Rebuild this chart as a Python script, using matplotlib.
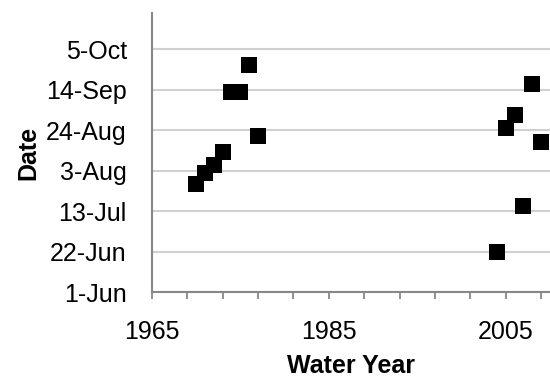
import matplotlib.pyplot as plt

plt.rcParams["font.family"] = ["Liberation Sans", "DejaVu Sans"]

# water year and day-of-year of the event
years = [1970, 1971, 1972, 1973, 1974, 1975, 1976, 1977,
         2004, 2005, 2006, 2007, 2008, 2009]
days = [208, 214, 218, 225, 256, 256, 270, 233,
        173, 237, 244, 197, 260, 230]

ytick_days = [152, 173, 194, 215, 236, 257, 278]
ytick_labels = ["1-Jun", "22-Jun", "13-Jul", "3-Aug", "24-Aug", "14-Sep", "5-Oct"]
xtick_years = list(range(1965, 2011, 4))
xlabel_years = [1965, 1985, 2005]

fs = 18

fig = plt.figure(figsize=(5.5, 3.81), dpi=100)
ax = fig.add_axes([0.2758, 0.2328, 0.7242, 0.7322])

ax.scatter(years, days, marker="s", s=130, color="black", linewidths=0, zorder=3, clip_on=False)

ax.set_xlim(1965, 2010)
ax.set_ylim(152, 296.7)

ax.set_yticks(ytick_days)
ax.set_yticklabels(ytick_labels, fontsize=fs)
ax.set_xticks(xtick_years)
ax.set_xticklabels([str(y) if y in xlabel_years else "" for y in xtick_years], fontsize=fs)
ax.tick_params(axis="y", length=0, pad=18)
ax.tick_params(axis="x", length=5, width=1.3, color="#888888", direction="out", pad=15)

ax.grid(axis="y", color="#d0d0d0", linewidth=1.5, zorder=0)
ax.set_axisbelow(True)
for side in ["top", "right"]:
    ax.spines[side].set_visible(False)
for side in ["left", "bottom"]:
    ax.spines[side].set_color("#888888")
    ax.spines[side].set_linewidth(1.5)

ax.set_xlabel("Water Year", fontsize=fs, fontweight="bold", labelpad=7)
ax.set_ylabel("Date", fontsize=fs, fontweight="bold", labelpad=4)

fig.savefig("out.png", dpi=100)
